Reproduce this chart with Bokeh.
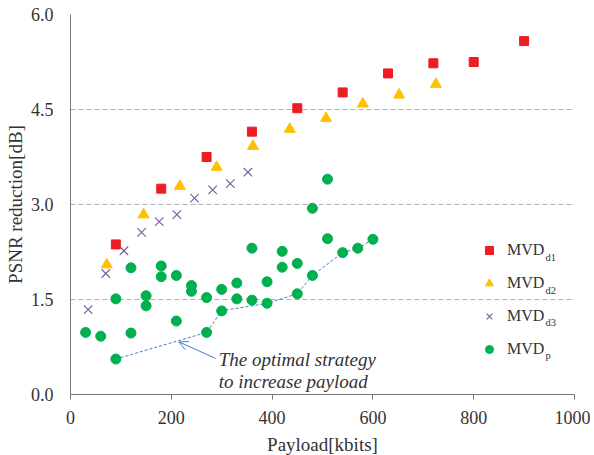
from bokeh.plotting import figure
from bokeh.models import Legend, LegendItem, Label, Arrow, OpenHead, FixedTicker, Range1d
from bokeh.embed import file_html
from bokeh.resources import INLINE

# ---- data ----
d1_x = [90, 180, 270, 360, 450, 540, 630, 720, 800, 900]
d1_y = [2.37, 3.25, 3.75, 4.15, 4.52, 4.77, 5.07, 5.23, 5.25, 5.58]

d2_x = [72, 145, 217, 290, 362, 435, 507, 580, 652, 725]
d2_y = [2.05, 2.84, 3.29, 3.59, 3.92, 4.19, 4.36, 4.59, 4.73, 4.90]

d3_x = [35, 70, 106, 141, 176, 211, 246, 282, 317, 352]
d3_y = [1.34, 1.91, 2.27, 2.56, 2.73, 2.84, 3.10, 3.23, 3.33, 3.51]

p_x = [30, 60, 90, 90, 120, 120, 150, 150, 180, 180, 210, 210, 240, 240,
       270, 270, 300, 300, 330, 330, 360, 360, 390, 390, 420, 420, 450, 450,
       480, 480, 510, 510, 540, 570, 600]
p_y = [0.98, 0.92, 0.56, 1.51, 2.00, 0.97, 1.56, 1.40, 2.03, 1.86, 1.88, 1.16,
       1.72, 1.63, 1.53, 0.98, 1.66, 1.32, 1.76, 1.51, 1.49, 2.31, 1.78, 1.44,
       2.26, 2.01, 2.07, 1.59, 1.88, 2.94, 3.40, 2.46, 2.24, 2.31, 2.45]

opt_x = [90, 270, 300, 390, 450, 480, 540, 570, 600]
opt_y = [0.56, 0.98, 1.32, 1.44, 1.59, 1.88, 2.24, 2.31, 2.45]

x_ticks = [0, 200, 400, 600, 800, 1000]
y_ticks = [0.0, 1.5, 3.0, 4.5, 6.0]
y_tick_labels = ["0.0", "1.5", "3.0", "4.5", "6.0"]
grid_ticks = [1.5, 3.0, 4.5, 6.0]

legend_names = ["MVD", "MVD", "MVD", "MVD"]
legend_subs = ["d1", "d2", "d3", "p"]

x_label = "Payload[kbits]"
y_label = "PSNR reduction[dB]"
note_lines = ["The optimal strategy", "to increase payload"]

# ---- styles ----
FONT = "Liberation Serif"
TXT = "#333333"
AX = "#777777"
RED = "#EE1D23"
YEL = "#FFC000"
PUR = "#7A5FA0"
GRN = "#00B050"
BLU = "#4A7EC8"

p = figure(frame_width=504, frame_height=380,
           min_border_left=70, min_border_right=16,
           min_border_top=14, min_border_bottom=60,
           x_range=Range1d(0, 1000), y_range=Range1d(0, 6),
           output_backend="svg", toolbar_location=None)
p.outline_line_color = None
p.background_fill_color = "white"

# axes
p.xaxis.ticker = FixedTicker(ticks=x_ticks)
p.yaxis.ticker = FixedTicker(ticks=y_ticks)
p.yaxis.major_label_overrides = {t: l for t, l in zip(y_ticks, y_tick_labels)}
for ax in (p.xaxis, p.yaxis):
    ax.axis_line_color = AX
    ax.axis_line_width = 1
    ax.major_tick_line_color = AX
    ax.minor_tick_line_color = None
    ax.major_label_text_font = FONT
    ax.major_label_text_font_size = "18px"
    ax.major_label_text_color = TXT
    ax.axis_label_text_font = FONT
    ax.axis_label_text_font_size = "19px"
    ax.axis_label_text_font_style = "normal"
    ax.axis_label_text_color = TXT
p.xaxis.axis_label = x_label
p.yaxis.axis_label = y_label
p.xaxis.major_tick_out = 5
p.xaxis.major_tick_in = 0
p.xaxis.major_label_standoff = 11
p.xaxis.axis_label_standoff = 7
p.yaxis.major_tick_out = 0
p.yaxis.major_tick_in = 0
p.yaxis.major_label_standoff = 17
p.yaxis.axis_label_standoff = 2

# grid
p.xgrid.visible = False
p.ygrid.ticker = FixedTicker(ticks=grid_ticks)
p.ygrid.grid_line_color = "#AFAFAF"
p.ygrid.grid_line_dash = "5 3"
p.ygrid.grid_line_width = 1

# optimal strategy dotted line
p.line(opt_x, opt_y, line_color=BLU, line_width=1, line_dash="3 2")

# series
r1 = p.scatter(d1_x, d1_y, marker="square", size=9, fill_color=RED, line_color=RED)
r2 = p.scatter(d2_x, d2_y, marker="triangle", size=11, fill_color=YEL, line_color=YEL)
r3 = p.scatter(d3_x, d3_y, marker="x", size=12, line_color=PUR, line_width=1.2)
r4 = p.scatter(p_x, p_y, marker="circle", size=10, fill_color=GRN, line_color=GRN)

# arrow + annotation
p.add_layout(Arrow(end=OpenHead(size=9, line_color=BLU, line_width=1),
                   x_start=288, y_start=0.57, x_end=215, y_end=0.83,
                   line_color=BLU, line_width=1))
for txt, yy in zip(note_lines, [0.55, 0.20]):
    p.add_layout(Label(x=294, y=yy, text=txt, text_font=FONT,
                       text_font_size="19px", text_font_style="italic",
                       text_color=TXT, text_align="left",
                       text_baseline="alphabetic"))

# legend
items = [LegendItem(label=n, renderers=[r]) for n, r in zip(legend_names, [r1, r2, r3, r4])]
legend = Legend(items=items, location=(409, 35), glyph_width=20, glyph_height=20,
                label_height=20, spacing=13, label_standoff=8, padding=0, margin=0,
                border_line_color=None, background_fill_alpha=0,
                label_text_font=FONT, label_text_font_size="16px",
                label_text_color=TXT)
p.add_layout(legend)
for sub, yy in zip(legend_subs, [2.17, 1.65, 1.13, 0.61]):
    p.add_layout(Label(x=942.5, y=yy, text=sub, text_font=FONT,
                       text_font_size="10.5px", text_color=TXT,
                       text_align="left", text_baseline="alphabetic"))

open("out.html", "w").write(file_html(p, INLINE))
